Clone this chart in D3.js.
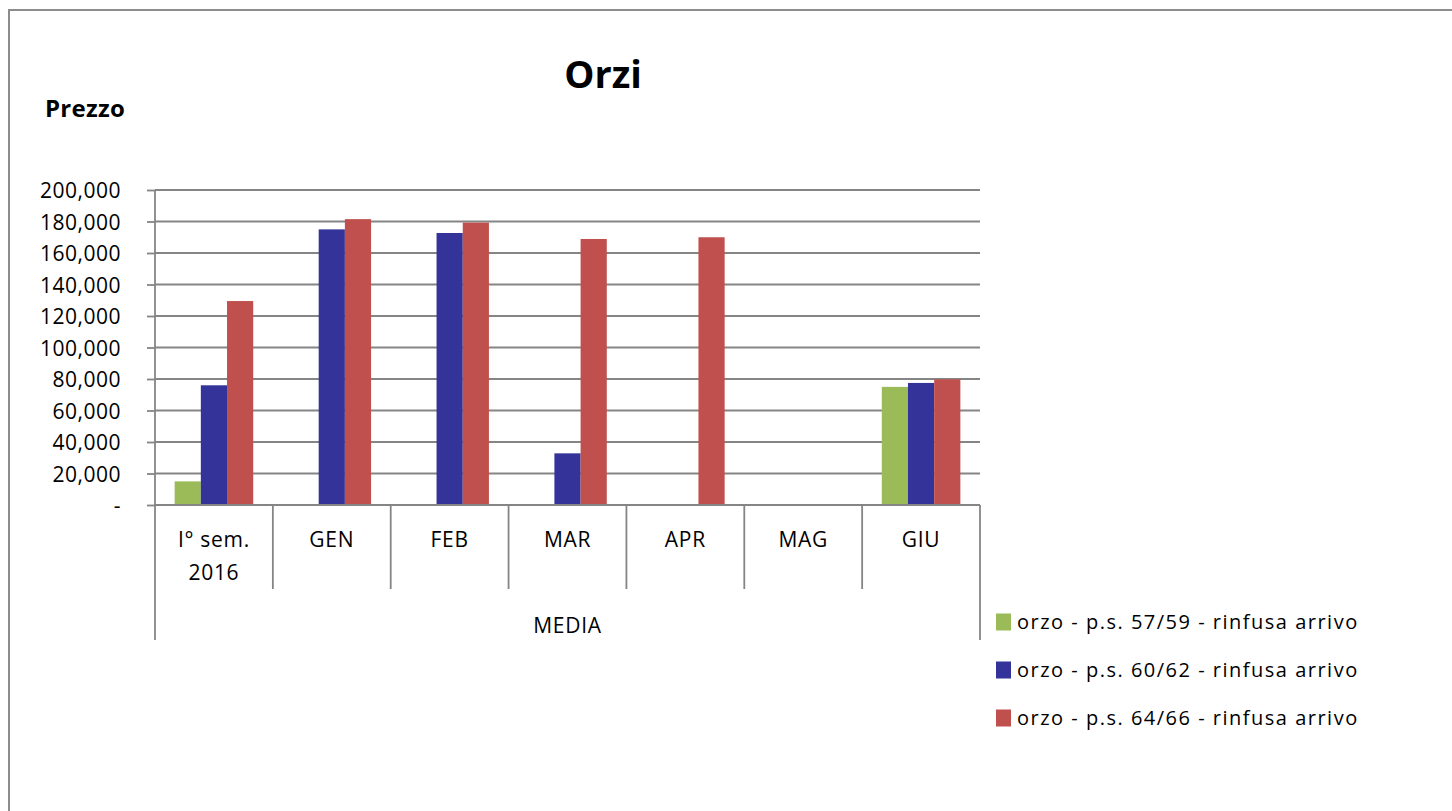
<!DOCTYPE html>
<html>
<head>
<meta charset="utf-8">
<script src="https://cdn.jsdelivr.net/npm/d3@7"></script>
<style>
  html, body { margin: 0; padding: 0; background: #fff; }
  svg { display: block; }
  text { font-family: "Open Sans", "Noto Sans", sans-serif; fill: #000; }
</style>
</head>
<body>
<svg id="chart" width="1452" height="811"></svg>
<script>
// ---- data ----
const categories = ["I° sem. 2016", "GEN", "FEB", "MAR", "APR", "MAG", "GIU"];
const categoryLines = [["I° sem.", "2016"], ["GEN"], ["FEB"], ["MAR"], ["APR"], ["MAG"], ["GIU"]];
const groupLabel = "MEDIA";
const seriesNames = [
  "orzo - p.s. 57/59 - rinfusa arrivo",
  "orzo - p.s. 60/62 - rinfusa arrivo",
  "orzo - p.s. 64/66 - rinfusa arrivo"
];
const series5759 = [15000, null, null, null, null, null, 75000];
const series6062 = [76000, 175000, 172700, 32800, null, null, 77500];
const series6466 = [129500, 181500, 179300, 168900, 170000, null, 79800];
const seriesColors = ["#9BBB59", "#333399", "#C0504D"];
const yTicks = [0, 20000, 40000, 60000, 80000, 100000, 120000, 140000, 160000, 180000, 200000];
const yTickLabels = ["-", "20,000", "40,000", "60,000", "80,000", "100,000", "120,000", "140,000", "160,000", "180,000", "200,000"];
const titleText = "Orzi";
const yTitle = "Prezzo";

const allSeries = [series5759, series6062, series6466];

// ---- layout ----
const svg = d3.select("#chart");
const plot = { left: 155, right: 980, top: 190, bottom: 505 };
const gridColor = "#858585";

// outer frame (extends beyond viewport right/bottom)
svg.append("rect")
  .attr("x", 9).attr("y", 10)
  .attr("width", 1500).attr("height", 900)
  .attr("fill", "none").attr("stroke", "#8c8c8c").attr("stroke-width", 2);

const x = d3.scaleBand().domain(categories).range([plot.left, plot.right]).paddingInner(0).paddingOuter(0);
const xs = d3.scaleBand().domain(d3.range(allSeries.length)).range([0, x.bandwidth()])
  .paddingInner(0).paddingOuter(0.75);
const y = d3.scaleLinear().domain([0, 200000]).range([plot.bottom, plot.top]);

// gridlines
svg.append("g").selectAll("line").data(yTicks.filter(d => d > 0)).join("line")
  .attr("x1", plot.left).attr("x2", plot.right)
  .attr("y1", d => y(d)).attr("y2", d => y(d))
  .attr("stroke", gridColor).attr("stroke-width", 1.8);

// y axis
const yAxis = d3.axisLeft(y).tickValues(yTicks).tickSize(8).tickPadding(26)
  .tickFormat((d, i) => yTickLabels[i]);
const gy = svg.append("g").attr("transform", `translate(${plot.left},0)`).call(yAxis);
gy.select(".domain").attr("stroke", gridColor).attr("stroke-width", 1.8).attr("d", `M0,${plot.top}V${plot.bottom}`);
gy.selectAll(".tick line").attr("stroke", gridColor).attr("stroke-width", 1.8);
gy.selectAll(".tick text").attr("font-size", 21).attr("font-family", "Open Sans").attr("fill", "#000")
  .attr("dy", "0.36em").attr("letter-spacing", "0.5px");

// bars
const barData = [];
allSeries.forEach((s, si) => s.forEach((v, ci) => { if (v != null) barData.push({ si, ci, v }); }));
svg.append("g").selectAll("rect").data(barData).join("rect")
  .attr("x", d => x(categories[d.ci]) + xs(d.si))
  .attr("width", xs.bandwidth())
  .attr("y", d => y(d.v))
  .attr("height", d => y(0) - y(d.v))
  .attr("fill", d => seriesColors[d.si]);

// x axis baseline
svg.append("line").attr("x1", plot.left).attr("x2", plot.right)
  .attr("y1", plot.bottom).attr("y2", plot.bottom)
  .attr("stroke", gridColor).attr("stroke-width", 2.2);

// category separators
const bounds = categories.map(c => x(c)).concat([plot.right]);
svg.append("g").selectAll("line").data(bounds).join("line")
  .attr("x1", d => d).attr("x2", d => d)
  .attr("y1", plot.bottom)
  .attr("y2", (d, i) => (i === 0 || i === bounds.length - 1) ? 640 : 589)
  .attr("stroke", gridColor).attr("stroke-width", 1.8);

// category labels
const cl = svg.append("g");
categories.forEach((c, i) => {
  const cx = x(c) + x.bandwidth() / 2;
  categoryLines[i].forEach((line, li) => {
    cl.append("text").attr("x", cx).attr("y", 547 + li * 33)
      .attr("text-anchor", "middle").attr("font-size", 21).attr("letter-spacing", "0.7px")
      .text(line);
  });
});
svg.append("text").attr("x", (plot.left + plot.right) / 2).attr("y", 633)
  .attr("text-anchor", "middle").attr("font-size", 21).attr("letter-spacing", "0.7px")
  .text(groupLabel);

// titles
svg.append("text").attr("x", 603).attr("y", 88).attr("text-anchor", "middle")
  .attr("font-size", 38).attr("font-weight", "bold").text(titleText);
svg.append("text").attr("x", 45).attr("y", 117)
  .attr("font-size", 24).attr("font-weight", "bold").attr("letter-spacing", "0.3px").text(yTitle);

// legend
const lg = svg.append("g");
seriesNames.forEach((name, i) => {
  const cy = 622 + i * 48;
  lg.append("rect").attr("x", 996).attr("y", cy - 8.5).attr("width", 15).attr("height", 17)
    .attr("fill", seriesColors[i]);
  lg.append("text").attr("x", 1017).attr("y", cy + 7).attr("font-size", 20)
    .attr("letter-spacing", "1.5px").text(name);
});
</script>
</body>
</html>
